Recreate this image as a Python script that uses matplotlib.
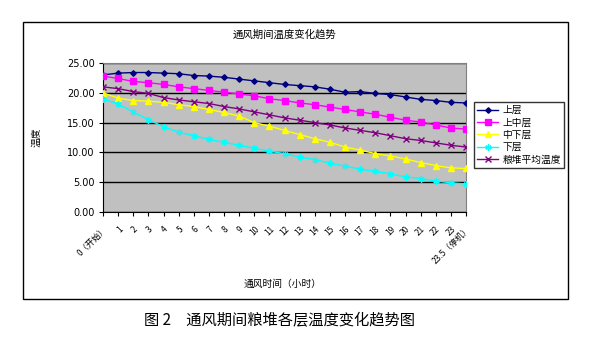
import matplotlib
matplotlib.use("Agg")
import matplotlib.pyplot as plt
from matplotlib.patches import Rectangle

plt.rcParams['font.family'] = ['Noto Sans CJK SC', 'DejaVu Sans']

categories = ['0（开始）'] + [str(i) for i in range(1, 24)] + ['23.5（停机）']

upper = [23.0, 23.3, 23.4, 23.4, 23.3, 23.2, 22.9, 22.8, 22.6, 22.3, 22.0, 21.7,
         21.4, 21.2, 21.0, 20.6, 20.1, 20.2, 19.9, 19.7, 19.3, 18.9, 18.7, 18.4, 18.3]
upper_mid = [22.8, 22.4, 21.9, 21.7, 21.4, 21.0, 20.7, 20.4, 20.1, 19.8, 19.5, 19.0,
             18.7, 18.3, 18.0, 17.6, 17.2, 16.8, 16.4, 15.9, 15.4, 15.1, 14.6, 14.1, 13.9]
mid_low = [20.0, 19.1, 18.7, 18.6, 18.4, 18.0, 17.7, 17.2, 16.7, 16.1, 15.0, 14.4,
           13.7, 13.0, 12.3, 11.7, 10.9, 10.4, 9.8, 9.4, 8.9, 8.3, 7.8, 7.4, 7.3]
lower = [19.0, 18.1, 16.8, 15.5, 14.3, 13.4, 12.8, 12.2, 11.7, 11.2, 10.7, 10.2,
         9.8, 9.2, 8.8, 8.2, 7.7, 7.2, 6.8, 6.4, 5.9, 5.6, 5.2, 4.9, 4.7]
average = [21.0, 20.7, 20.2, 19.9, 19.2, 18.8, 18.5, 18.2, 17.7, 17.3, 16.8, 16.3,
           15.8, 15.4, 15.0, 14.6, 14.1, 13.7, 13.3, 12.8, 12.3, 12.0, 11.6, 11.2, 10.9]

series_names = ['上层', '上中层', '中下层', '下层', '粮堆平均温度']
yticks = [0, 5, 10, 15, 20, 25]

W, H = 589, 340
fig = plt.figure(figsize=(W / 100, H / 100), dpi=100)
fig.patch.set_facecolor('white')

# outer chart frame
fig.patches.append(Rectangle((23 / W, 1 - 299 / H), (568 - 23) / W, (299 - 22) / H,
                             transform=fig.transFigure, fill=False,
                             edgecolor='black', linewidth=1.0))

ax = fig.add_axes([103 / W, 1 - 212 / H, (466 - 103) / W, (212 - 63) / H])
ax.set_facecolor('#C0C0C0')
x = list(range(len(categories)))

styles = [
    (upper, '#000080', 'D', 2.8),
    (upper_mid, '#FF00FF', 's', 3.8),
    (mid_low, '#FFFF00', '^', 4.2),
    (lower, '#00FFFF', (6, 2, 0), 4.5),
    (average, '#800080', 'x', 3.8),
]
for (vals, col, mk, ms), name in zip(styles, series_names):
    ax.plot(x, vals, color=col, marker=mk, markersize=ms, linewidth=1.0,
            markeredgewidth=1.0, label=name, zorder=3)

ax.set_xlim(0, len(categories) - 1)
ax.set_ylim(0, 25)
ax.set_yticks(yticks)
ax.set_yticklabels([f'{v:.2f}' for v in yticks], fontsize=7, family='DejaVu Sans')
ax.yaxis.grid(True, color='black', linewidth=1.0)
ax.set_axisbelow(True)
ax.set_xticks(x)
ax.set_xticklabels(categories, rotation=45, ha='right', va='top',
                   rotation_mode='anchor', fontsize=6)
ax.tick_params(axis='x', length=3, pad=6)
ax.tick_params(axis='y', length=3, pad=3)
for side in ['top', 'right']:
    ax.spines[side].set_color('#808080')
for side in ['left', 'bottom']:
    ax.spines[side].set_color('black')

ax.set_title('通风期间温度变化趋势', fontsize=7.5, pad=18)

fig.text(283 / W, 1 - 284 / H, '通风时间（小时）', fontsize=7, ha='center', va='center')
fig.text(37 / W, 1 - 137 / H, '温度', fontsize=7, ha='center', va='center', rotation=90)

leg = ax.legend(loc='upper left', bbox_to_anchor=(474 / W, 1 - 102 / H),
                bbox_transform=fig.transFigure, fontsize=7, frameon=True,
                fancybox=False, edgecolor='black', borderpad=0.3,
                labelspacing=0.25, handlelength=2.2, handletextpad=0.4,
                borderaxespad=0)
leg.get_frame().set_linewidth(1.0)

fig.text(279 / W, 1 - 321 / H, '图 2　通风期间粮堆各层温度变化趋势图', fontsize=11,
         ha='center', va='center')

fig.savefig('out.png', dpi=100)
